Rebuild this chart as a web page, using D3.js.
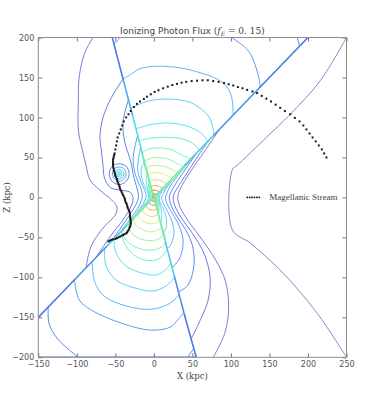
<!DOCTYPE html>
<html>
<head>
<meta charset="utf-8">
<script src="https://cdn.jsdelivr.net/npm/d3@7"></script>
<style>
  body { margin: 0; background: #fff; }
</style>
</head>
<body>
<div id="chart"></div>
<script>
// axis ticks
const xTicks = [-150, -100, -50, 0, 50, 100, 150, 200, 250];
const zTicks = [-200, -150, -100, -50, 0, 50, 100, 150, 200];

// contour level colours (low -> high), as they look on screen
const levelColors = ["#7a78c8", "#6e6ed6", "#5f6ae0", "#4c78e8", "#4a92ee", "#4aaef2",
                     "#4cc8f0", "#4ee0e4", "#5aeccc", "#70f0b0", "#94f090", "#bcee74",
                     "#e0e860", "#f6cc50", "#f8a03c", "#f06424", "#d42010"];

// cone edges (contour pieces lying on the shadow boundary): [level, from, to]
const coneEdges = [
  [9, [0, 0], [-15, 55]], [7, [-15, 55], [-28, 104]], [5, [-28, 104], [-40, 148]], [3, [-40, 148], [-54, 200]],
  [9, [0, 0], [40, 40]], [6, [40, 40], [78, 78]], [4, [78, 78], [138, 138]], [3, [138, 138], [200, 200]],
  [9, [0, 0], [-36, -36]], [6, [-36, -36], [-62, -62]], [4, [-62, -62], [-103, -103]], [3, [-103, -103], [-150, -150]],
  [9, [0, 0], [15, -56]], [6, [15, -56], [27, -100]], [4, [27, -100], [40, -148]], [3, [40, -148], [55, -200]],
  [3, [-150, -200], [55, -200]]
];

// upper cone contours
const upperCone = [
  [3, [[186, 200], [189, 190]]],
  [4, [[-52, 192], [-47, 196], [-44, 200]]],
  [4, [[101, 200], [118, 188], [125, 180], [131, 167], [137, 146], [138, 138]]],
  [5, [[-40, 148], [-28, 155], [-18, 161], [4, 164], [34, 162], [60, 156], [82, 148], [95, 138], [101, 125], [103, 103]]],
  [6, [[-30, 111], [-20, 116], [-5, 121], [21, 123], [47, 119], [62, 110], [72, 100], [77, 85], [78, 78]]],
  [7, [[-23, 86], [-12, 89], [-5, 91], [21, 93], [47, 88], [64, 78], [70, 70]]],
  [8, [[-19, 70], [-10, 73], [8, 75], [38, 73], [55, 64], [58, 58]]]
];

// lower cone contours
const lowerCone = [
  [3, [[-137, -137], [-136, -158], [-124, -178], [-98, -200]]],
  [3, [[44, -200], [51, -190]]],
  [4, [[-103, -103], [-97, -128], [-81, -141], [-43, -157], [-4, -166], [22, -162], [31, -153], [39, -144]]],
  [5, [[-80, -80], [-77, -105], [-64, -124], [-35, -136], [-5, -140], [18, -134], [33, -122]]],
  [6, [[-64, -64], [-62, -86], [-48, -104], [-22, -114], [0, -117], [17, -110], [27, -100]]],
  [7, [[-52, -52], [-49, -70], [-36, -86], [-14, -95], [4, -97], [16, -90], [22, -82]]],
  [8, [[-42, -42], [-39, -56], [-26, -72], [-8, -79], [8, -76], [17, -66], [18, -66]]]
];

// right side (outside the cones)
const rightSide = [
  [0, [[250, 200], [216, 146], [177, 104], [147, 76], [108, 40], [102, 35], [102, -41], [125, -57], [168, -95], [212, -145], [250, -200]]],
  [1, [[86, 86], [66, 58], [46, 30], [34, 10], [31, 0], [34, -12], [45, -30], [62, -52], [80, -78], [93, -105], [97, -140], [92, -170], [77, -200]]],
  [2, [[70, 70], [52, 44], [36, 20], [27, 6], [25, 0], [27, -10], [36, -26], [50, -45], [65, -70], [73, -100], [70, -130], [57, -160], [48, -178]]],
  [3, [[56, 56], [40, 34], [27, 15], [21, 4], [20, 0], [22, -9], [30, -24], [41, -40], [50, -60], [52, -85], [44, -110], [32, -118]]],
  [4, [[44, 44], [30, 26], [20, 12], [16, 3], [15, 0], [17, -8], [24, -20], [33, -36], [38, -55], [34, -75], [24, -88]]],
  [5, [[34, 34], [22, 19], [14, 8], [11, 2], [10, 0], [12, -7], [18, -18], [24, -32], [26, -46], [20, -62], [17, -63]]],
  [6, [[26, 26], [15, 12], [9, 5], [7, 0], [8, -6], [12, -14], [16, -25], [16, -38], [12, -44]]],
  [7, [[20, 20], [10, 8], [6, 3], [5.5, 0], [6, -4], [8, -10], [10, -20], [9, -30], [8, -30]]],
  [8, [[16, 16], [8, 6], [5, 2], [4.5, 0], [5, -3], [6, -8], [7, -16], [6, -22]]]
];

// left side (outside the cones), bent round the LMC
const leftSide = [
  [1, [[-79, 200], [-90, 180], [-97, 150], [-98, 120], [-98, 84], [-93, 60], [-88, 40], [-83, 22], [-70, 9], [-55, -3], [-48, -12], [-50, -22], [-63, -35], [-75, -50], [-83, -65], [-88, -88]]],
  [2, [[-75, -75], [-56, -48], [-40, -28], [-30, -12], [-27, -2], [-30, 6], [-42, 9], [-56, 12], [-64, 24], [-66, 40], [-68, 58], [-70, 75], [-66, 100], [-55, 125], [-40, 148]]],
  [3, [[-56, -56], [-40, -34], [-27, -15], [-21, -4], [-20, 3], [-22, 12], [-26, 25], [-30, 45], [-38, 70], [-40, 95], [-33, 122]]],
  [4, [[-44, -44], [-30, -26], [-20, -12], [-16, -3], [-15, 2], [-16, 9], [-20, 18], [-25, 32], [-27, 48], [-24, 66], [-21, 78]]],
  [5, [[-34, -34], [-22, -19], [-14, -8], [-11, -2], [-10, 2], [-12, 9], [-17, 20], [-21, 34], [-20, 48], [-17, 63]]],
  [6, [[-26, -26], [-15, -12], [-9, -5], [-7, 0], [-8, 6], [-12, 14], [-16, 25], [-16, 38], [-12, 44]]],
  [7, [[-20, -20], [-10, -8], [-6, -3], [-5.5, 0], [-6, 4], [-8, 10], [-10, 20], [-9, 30], [-8, 30]]],
  [8, [[-16, -16], [-8, -6], [-5, -2], [-4.5, 0], [-5, 3], [-6, 8], [-7, 16], [-6, 22]]]
];

// LMC rings
const lmcRings = [
  [3, [[-45, 42], [-36, 39], [-32, 29], [-36, 20], [-45, 16], [-54, 20], [-58, 29], [-54, 39]]],
  [4, [[-45, 38], [-39, 36], [-36, 29], [-39, 23], [-45, 20], [-51, 23], [-54, 29], [-51, 36]]],
  [5, [[-45, 35], [-41, 33], [-39, 29], [-41, 25], [-45, 23], [-49, 25], [-51, 29], [-49, 33]]],
  [6, [[-45, 32.5], [-42.5, 31.5], [-41.5, 29], [-42.5, 26.5], [-45, 25.5], [-47.5, 26.5], [-48.5, 29], [-47.5, 31.5]]],
  [7, [[-45, 31], [-43.5, 30.4], [-43, 29], [-43.5, 27.6], [-45, 27], [-46.5, 27.6], [-47, 29], [-46.5, 30.4]]],
  [8, [[-45, 30], [-44, 29], [-45, 28], [-46, 29]]]
];

// closed contours round the Galactic centre
const coreLoops = [
  [9, [[-15, 55], [-8, 60], [4, 62], [22, 60], [38, 52], [47, 47], [8, 8], [4.5, 3], [3.6, 0], [4, -5], [5.4, -12], [6, -22], [15, -56], [8, -63], [-6, -66], [-24, -62], [-37, -52], [-40, -40], [-8, -8], [-4.5, -3], [-3.6, 0], [-4, 5], [-5.4, 12], [-6, 22]]],
  [10, [[-12, 44], [-6, 48], [3, 50], [18, 48], [31, 42], [38, 38], [6.5, 6.5], [3.7, 2.5], [3, 0], [3.3, -4], [4.4, -10], [5, -18], [12, -46], [6, -52], [-5, -54], [-20, -51], [-30, -43], [-33, -33], [-6.5, -6.5], [-3.7, -2.5], [-3, 0], [-3.3, 4], [-4.4, 10], [-5, 18]]],
  [11, [[-9.5, 35], [-5, 39], [2.5, 40], [14, 39], [25, 34], [30, 30], [5, 5], [3, 2], [2.5, 0], [2.7, -3], [3.5, -8], [4, -15], [10, -37], [5, -41], [-4, -43], [-16, -40], [-24, -34], [-26, -26], [-5, -5], [-3, -2], [-2.5, 0], [-2.7, 3], [-3.5, 8], [-4, 15]]],
  [12, [[-7.5, 27.5], [-4, 30], [2, 31], [11, 30], [19, 26], [23.5, 23.5], [4, 4], [2.3, 1.5], [2, 0], [2.1, -2.5], [2.7, -6], [3, -11], [7.5, -28], [4, -31.5], [-3, -33], [-12, -31], [-18.5, -26], [-20, -20], [-4, -4], [-2.3, -1.5], [-2, 0], [-2.1, 2.5], [-2.7, 6], [-3, 11]]],
  [13, [[-5.3, 19.5], [-2.8, 21.3], [1.4, 22], [7.8, 21.3], [13.5, 18.5], [16.7, 16.7], [2.8, 2.8], [1.8, 1], [1.6, 0], [1.6, -2], [2, -4.5], [2.2, -8], [5.5, -20], [2.8, -22.5], [-2.2, -24], [-8.5, -22], [-13, -18.5], [-14.2, -14.2], [-2.8, -2.8], [-1.8, -1], [-1.6, 0], [-1.6, 2], [-2, 4.5], [-2.2, 8]]],
  [14, [[-3.6, 13], [-2, 14.5], [1, 15], [5.3, 14.5], [9.2, 12.6], [11.3, 11.3], [2, 2], [1.3, 0.8], [1.2, 0], [1.2, -1.5], [1.4, -3], [1.5, -5.5], [3.7, -13.5], [2, -15], [-1.5, -16], [-5.8, -15], [-8.8, -12.6], [-9.6, -9.6], [-2, -2], [-1.3, -0.8], [-1.2, 0], [-1.2, 1.5], [-1.4, 3], [-1.5, 5.5]]],
  [15, [[-2.2, 8], [0, 9], [3.2, 8.7], [5.5, 7.5], [6.8, 6.8], [1.3, 1.3], [0.9, 0], [1, -2.5], [1.2, -4.5], [2.2, -8.5], [0, -10], [-3.5, -9], [-5.6, -7.5], [-5.8, -5.8], [-1.3, -1.3], [-0.9, 0], [-1, 2.5], [-1.2, 4.5]]],
  [16, [[-1.1, 4], [0, 4.5], [1.6, 4.3], [3, 3], [0.6, 0], [0.6, -2.5], [1.1, -4.2], [0, -5], [-1.7, -4.5], [-2.8, -2.8], [-0.6, 0], [-0.6, 2.2]]]
];

// Magellanic Stream positions (x, z) in kpc
const streamX = [-59, -57, -55, -53, -50, -48, -46, -44, -42, -40, -38, -36, -35, -34, -33, -32, -31, -30.5, -30, -30,
  -30, -30.5, -31, -31, -31, -31.5, -32, -33, -34, -34.5, -35, -36, -37, -37.5, -38, -39, -40, -41, -42, -43,
  -44, -44.5, -45, -46, -47, -47.5, -48, -49, -50, -50.5, -51, -51.5, -52, -52.5, -53, -53, -53, -53, -53, -52.5,
  -52, -51.5, -51, -50, -49, -48, -47, -45, -43, -41, -39, -36, -33, -30, -26, -22, -18, -13, -9, -4,
  1, 6, 12, 18, 24, 30, 36, 42, 49, 56, 63, 70, 77, 84, 91, 97, 103, 109, 115, 121,
  128, 134, 140, 146, 152, 158, 164, 170, 177, 183, 189, 194, 198, 202, 206, 210, 214, 218, 221, 224];
const streamZ = [-55, -54, -53, -52.5, -52, -51, -50, -49, -48, -47, -46, -45, -44, -42.5, -41, -39, -37, -35, -33, -31,
  -29, -27, -25, -23, -21, -19, -17, -15, -13, -11, -9, -7, -5, -3, -1, 1, 3, 5, 7, 9,
  11, 13, 15, 17, 19, 21, 23, 25, 27, 29, 31, 33, 35, 37, 39, 41, 43, 45, 47, 49,
  51, 53, 55, 60, 65, 70, 75, 80, 85, 90, 95, 100, 104, 108, 113, 117, 120, 123, 126, 129,
  132, 134, 136.5, 138.5, 140.5, 142, 143.5, 144.5, 145.5, 146, 146.5, 146.5, 145.5, 144.5, 143, 141.5, 140, 138, 136.5, 134.5,
  132.5, 130.5, 127, 123.5, 120, 116, 112, 108, 104, 99.5, 95, 90, 85, 80, 75, 70, 65, 60, 55, 50];

const W = 387, H = 398;
const margin = { top: 37.5, right: 40.5, bottom: 40.7, left: 38.3 };
const width = W - margin.left - margin.right,
      height = H - margin.top - margin.bottom;

const svg = d3.select("#chart").append("svg")
    .attr("width", W)
    .attr("height", H);

const x = d3.scaleLinear().domain([-150, 250]).range([0, width]);
const z = d3.scaleLinear().domain([-200, 200]).range([height, 0]);

const g = svg.append("g").attr("transform", `translate(${margin.left},${margin.top})`);

g.append("clipPath").attr("id", "clip")
  .append("rect").attr("width", width).attr("height", height);

const plot = g.append("g").attr("clip-path", "url(#clip)");

const line = d3.line().x(d => x(d[0])).y(d => z(d[1])).curve(d3.curveCatmullRom.alpha(0.5));
const lineClosed = d3.line().x(d => x(d[0])).y(d => z(d[1])).curve(d3.curveCatmullRomClosed.alpha(0.5));

function drawSet(set, gen) {
  plot.append("g").selectAll("path")
    .data(set)
    .join("path")
    .attr("d", d => gen(d[1]))
    .attr("fill", "none")
    .attr("stroke", d => levelColors[d[0]])
    .attr("stroke-width", 0.9);
}

drawSet(rightSide, line);
drawSet(leftSide, line);
drawSet(upperCone, line);
drawSet(lowerCone, line);
drawSet(lmcRings, lineClosed);
drawSet(coreLoops, lineClosed);

// cone edges
plot.append("g").selectAll("line")
  .data(coneEdges)
  .join("line")
  .attr("x1", d => x(d[1][0])).attr("y1", d => z(d[1][1]))
  .attr("x2", d => x(d[2][0])).attr("y2", d => z(d[2][1]))
  .attr("stroke", d => levelColors[d[0]])
  .attr("stroke-width", 1.6)
  .attr("stroke-linecap", "round");

// Magellanic Stream
const stream = d3.zip(streamX, streamZ);
plot.append("g").selectAll("rect")
  .data(stream)
  .join("rect")
  .attr("x", d => x(d[0]) - 1)
  .attr("y", d => z(d[1]) - 1)
  .attr("width", 2)
  .attr("height", 2)
  .attr("fill", "#1a1a1a");

// axes, ticks inward on all sides
const fmt = d => d < 0 ? "\u2212" + Math.abs(d) : d;
const xAxis = g.append("g").attr("transform", `translate(0,${height})`)
  .call(d3.axisBottom(x).tickValues(xTicks).tickSizeInner(-4).tickSizeOuter(0).tickPadding(4).tickFormat(fmt));
const xAxisTop = g.append("g")
  .call(d3.axisTop(x).tickValues(xTicks).tickSizeInner(-4).tickSizeOuter(0).tickFormat(""));
const zAxis = g.append("g")
  .call(d3.axisLeft(z).tickValues(zTicks).tickSizeInner(-4).tickSizeOuter(0).tickPadding(4).tickFormat(fmt));
const zAxisRight = g.append("g").attr("transform", `translate(${width},0)`)
  .call(d3.axisRight(z).tickValues(zTicks).tickSizeInner(-4).tickSizeOuter(0).tickFormat(""));

[xAxis, xAxisTop, zAxis, zAxisRight].forEach(a => {
  a.select(".domain").remove();
  a.selectAll("line").attr("stroke", "#777");
  a.selectAll("text")
    .attr("fill", "#555")
    .style("font-family", "DejaVu Sans, sans-serif")
    .style("font-size", "8px");
});

g.append("rect")
  .attr("width", width).attr("height", height)
  .attr("fill", "none")
  .attr("stroke", "#8c8c8c")
  .attr("stroke-width", 1);

// title
const title = svg.append("text")
  .attr("x", margin.left + width / 2)
  .attr("y", 34)
  .attr("text-anchor", "middle")
  .attr("fill", "#444")
  .style("font-family", "DejaVu Sans, sans-serif")
  .style("font-size", "9px");
title.append("tspan").text("Ionizing Photon Flux (");
title.append("tspan").style("font-family", "DejaVu Serif, serif").style("font-style", "italic").text("f");
title.append("tspan").style("font-family", "DejaVu Serif, serif").style("font-style", "italic")
  .style("font-size", "6px").attr("dy", 2).text("E");
title.append("tspan").style("font-family", "DejaVu Serif, serif").attr("dy", -2).text(" = 0. 15");
title.append("tspan").text(")");

// axis labels
svg.append("text")
  .attr("x", margin.left + width / 2)
  .attr("y", 379)
  .attr("text-anchor", "middle")
  .attr("fill", "#444")
  .style("font-family", "DejaVu Serif, serif")
  .style("font-size", "8.5px")
  .text("X (kpc)");
svg.append("text")
  .attr("transform", `translate(10,${margin.top + height / 2}) rotate(-90)`)
  .attr("text-anchor", "middle")
  .attr("fill", "#444")
  .style("font-family", "DejaVu Serif, serif")
  .style("font-size", "8.5px")
  .text("Z (kpc)");

// legend
const legend = g.append("g").attr("transform", `translate(${x(120)},${z(0)})`);
legend.selectAll("rect")
  .data(d3.range(6))
  .join("rect")
  .attr("x", d => 1 + d * 2.4 - 0.8)
  .attr("y", -0.8)
  .attr("width", 1.6)
  .attr("height", 1.6)
  .attr("fill", "#111");
legend.append("text")
  .attr("x", 23)
  .attr("y", 3)
  .attr("fill", "#444")
  .style("font-family", "Liberation Serif, serif")
  .style("font-size", "9px")
  .text("Magellanic Stream");
</script>
</body>
</html>
